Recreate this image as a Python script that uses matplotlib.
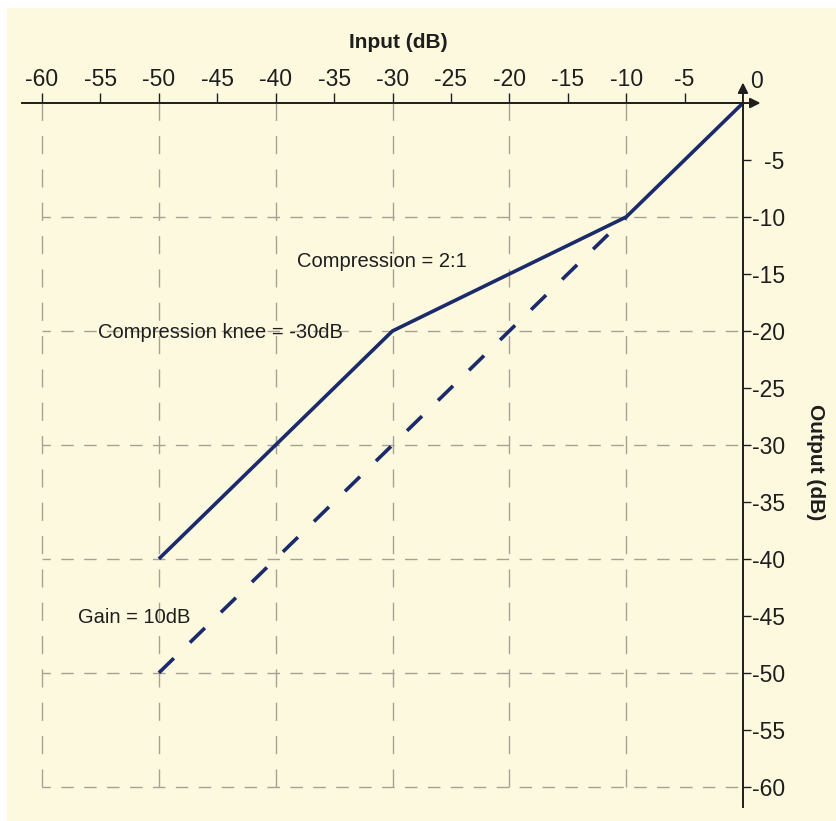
import numpy as np
import matplotlib
matplotlib.use('Agg')
import matplotlib.pyplot as plt
from matplotlib.patches import Rectangle

# data
x_ticks = [-60, -55, -50, -45, -40, -35, -30, -25, -20, -15, -10, -5]
y_ticks = [-5, -10, -15, -20, -25, -30, -35, -40, -45, -50, -55, -60]
grid_x = [-60, -50, -40, -30, -20, -10]
grid_y = [-10, -20, -30, -40, -50, -60]

comp_in = [-50, -30, -10, 0]      # compressed curve (solid)
comp_out = [-40, -20, -10, 0]
unity_in = [-50, -10]             # dashed reference
unity_out = [-50, -10]

navy = '#1b2a6b'
cream = '#fdf9df'
gridc = '#a5a293'
ink = '#1e1e1e'

plt.rcParams['font.family'] = ['Liberation Sans', 'DejaVu Sans']

fig = plt.figure(figsize=(8.37, 8.21), dpi=100)
fig.patch.set_facecolor('white')
fig.patches.append(Rectangle((7/837, 0), 1, 1 - 8/821, transform=fig.transFigure,
                             facecolor=cream, edgecolor='none', zorder=-10))
ax = fig.add_axes([0, 0, 1, 1])
ax.patch.set_alpha(0)
ax.set_xlim(-63.6, 8.05)
ax.set_ylim(-63.0, 9.04)

# grid
ax.vlines(grid_x, -60, 0, colors=gridc, lw=1.0, linestyles=(0, (13, 11)), zorder=1)
ax.hlines(grid_y, -60, 0, colors=gridc, lw=1.0, linestyles=(3, (9, 7.5)), zorder=1)

# curves
ax.plot(comp_in, comp_out, color=navy, lw=2.6, solid_capstyle='butt', zorder=3)
ax.plot(unity_in, unity_out, color=navy, lw=2.6, ls=(0, (5.8, 6.2)),
        dash_capstyle='butt', zorder=3)

# axes at zero
for s in ['left', 'bottom']:
    ax.spines[s].set_visible(False)
ax.spines['top'].set_position(('data', 0))
ax.spines['top'].set_bounds(-61.7, 0)
ax.spines['right'].set_position(('data', 0))
ax.spines['right'].set_bounds(-61.8, 0)
for s in ['top', 'right']:
    ax.spines[s].set_color(ink)
    ax.spines[s].set_linewidth(1.4)

ax.xaxis.tick_top()
ax.yaxis.tick_right()
ax.set_xticks(x_ticks)
ax.set_xticklabels([str(v) for v in x_ticks])
ax.set_yticks(y_ticks)
ax.set_yticklabels([str(v) for v in y_ticks])
ax.tick_params(axis='x', direction='out', length=7, width=1, color=ink,
               labelsize=16.5, pad=1.5, labelcolor=ink)
ax.tick_params(axis='y', direction='out', length=6, width=1, color=ink,
               labelsize=16.5, pad=24, labelcolor=ink)
for lbl in ax.get_yticklabels():
    lbl.set_ha('right')
ax.text(1.15, 1.85, '0', ha='center', va='center', fontsize=16.5, color=ink)

# arrows
ax.annotate('', xy=(1.5, 0), xytext=(-0.2, 0),
            arrowprops=dict(arrowstyle='-|>', color=ink, lw=1.4,
                            mutation_scale=15, shrinkA=0, shrinkB=0))
ax.annotate('', xy=(0, 1.8), xytext=(0, -0.2),
            arrowprops=dict(arrowstyle='-|>', color=ink, lw=1.4,
                            mutation_scale=15, shrinkA=0, shrinkB=0))

# labels
ax.text(-29.5, 5.35, 'Input (dB)', ha='center', va='center', fontsize=15,
        fontweight='bold', color=ink)
ax.text(6.25, -31.5, 'Output (dB)', ha='center', va='center', fontsize=15,
        fontweight='bold', rotation=-90, color=ink)
ax.text(-38.2, -14.4, 'Compression = 2:1', ha='left', va='baseline',
        fontsize=14.5, color=ink)
ax.text(-55.2, -20.6, 'Compression knee = -30dB', ha='left', va='baseline',
        fontsize=14.5, color=ink)
ax.text(-56.9, -45.6, 'Gain = 10dB', ha='left', va='baseline',
        fontsize=14.5, color=ink)

fig.savefig('out.png', dpi=100, facecolor=fig.get_facecolor())
